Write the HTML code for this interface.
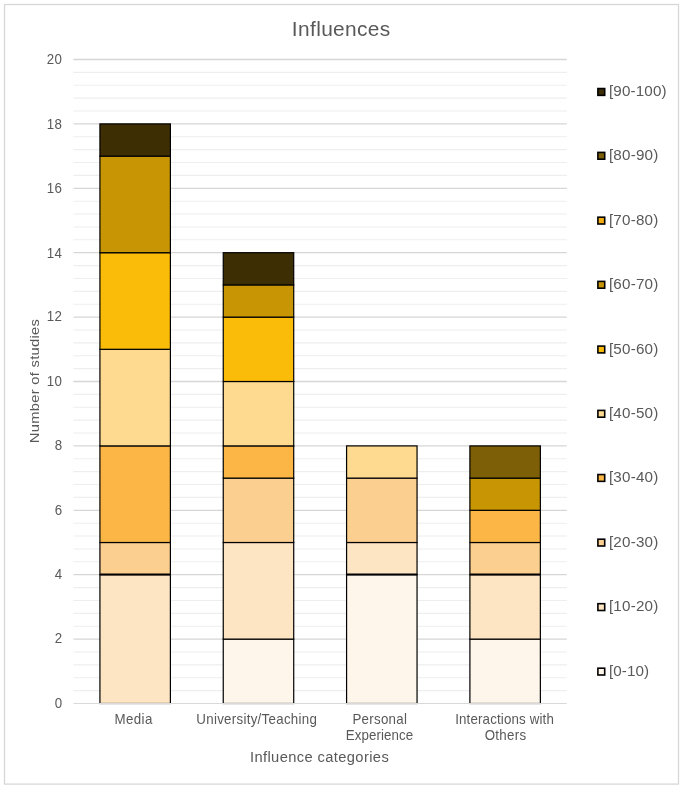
<!DOCTYPE html>
<html lang="en">
<head>
<meta charset="utf-8">
<title>Influences</title>
<style>
html,body{margin:0;padding:0;background:#fff;}
body{width:683px;height:789px;overflow:hidden;}
svg{display:block;}
text{font-family:"Liberation Sans",Arial,sans-serif;fill:#595959;}
</style>
</head>
<body>
<svg width="683" height="789" viewBox="0 0 683 789">
<rect x="0" y="0" width="683" height="789" fill="#ffffff"/>
<rect x="4.5" y="4.5" width="674" height="779.6" fill="none" stroke="#D6D6D6" stroke-width="1.25"/>

<g stroke="#EEEEEE" stroke-width="1.1">
<line x1="73.5" x2="566.8" y1="690.62" y2="690.62"/>
<line x1="73.5" x2="566.8" y1="677.74" y2="677.74"/>
<line x1="73.5" x2="566.8" y1="664.86" y2="664.86"/>
<line x1="73.5" x2="566.8" y1="651.98" y2="651.98"/>
<line x1="73.5" x2="566.8" y1="626.22" y2="626.22"/>
<line x1="73.5" x2="566.8" y1="613.34" y2="613.34"/>
<line x1="73.5" x2="566.8" y1="600.46" y2="600.46"/>
<line x1="73.5" x2="566.8" y1="587.58" y2="587.58"/>
<line x1="73.5" x2="566.8" y1="561.82" y2="561.82"/>
<line x1="73.5" x2="566.8" y1="548.94" y2="548.94"/>
<line x1="73.5" x2="566.8" y1="536.06" y2="536.06"/>
<line x1="73.5" x2="566.8" y1="523.18" y2="523.18"/>
<line x1="73.5" x2="566.8" y1="497.42" y2="497.42"/>
<line x1="73.5" x2="566.8" y1="484.54" y2="484.54"/>
<line x1="73.5" x2="566.8" y1="471.66" y2="471.66"/>
<line x1="73.5" x2="566.8" y1="458.78" y2="458.78"/>
<line x1="73.5" x2="566.8" y1="433.02" y2="433.02"/>
<line x1="73.5" x2="566.8" y1="420.14" y2="420.14"/>
<line x1="73.5" x2="566.8" y1="407.26" y2="407.26"/>
<line x1="73.5" x2="566.8" y1="394.38" y2="394.38"/>
<line x1="73.5" x2="566.8" y1="368.62" y2="368.62"/>
<line x1="73.5" x2="566.8" y1="355.74" y2="355.74"/>
<line x1="73.5" x2="566.8" y1="342.86" y2="342.86"/>
<line x1="73.5" x2="566.8" y1="329.98" y2="329.98"/>
<line x1="73.5" x2="566.8" y1="304.22" y2="304.22"/>
<line x1="73.5" x2="566.8" y1="291.34" y2="291.34"/>
<line x1="73.5" x2="566.8" y1="278.46" y2="278.46"/>
<line x1="73.5" x2="566.8" y1="265.58" y2="265.58"/>
<line x1="73.5" x2="566.8" y1="239.82" y2="239.82"/>
<line x1="73.5" x2="566.8" y1="226.94" y2="226.94"/>
<line x1="73.5" x2="566.8" y1="214.06" y2="214.06"/>
<line x1="73.5" x2="566.8" y1="201.18" y2="201.18"/>
<line x1="73.5" x2="566.8" y1="175.42" y2="175.42"/>
<line x1="73.5" x2="566.8" y1="162.54" y2="162.54"/>
<line x1="73.5" x2="566.8" y1="149.66" y2="149.66"/>
<line x1="73.5" x2="566.8" y1="136.78" y2="136.78"/>
<line x1="73.5" x2="566.8" y1="111.02" y2="111.02"/>
<line x1="73.5" x2="566.8" y1="98.14" y2="98.14"/>
<line x1="73.5" x2="566.8" y1="85.26" y2="85.26"/>
<line x1="73.5" x2="566.8" y1="72.38" y2="72.38"/>
</g>
<g stroke="#D6D6D6" stroke-width="1.3">
<line x1="73.5" x2="566.8" y1="639.10" y2="639.10"/>
<line x1="73.5" x2="566.8" y1="574.70" y2="574.70"/>
<line x1="73.5" x2="566.8" y1="510.30" y2="510.30"/>
<line x1="73.5" x2="566.8" y1="445.90" y2="445.90"/>
<line x1="73.5" x2="566.8" y1="381.50" y2="381.50"/>
<line x1="73.5" x2="566.8" y1="317.10" y2="317.10"/>
<line x1="73.5" x2="566.8" y1="252.70" y2="252.70"/>
<line x1="73.5" x2="566.8" y1="188.30" y2="188.30"/>
<line x1="73.5" x2="566.8" y1="123.90" y2="123.90"/>
<line x1="73.5" x2="566.8" y1="59.50" y2="59.50"/>
</g>
<g stroke="#000000" stroke-width="1.2">
<rect x="99.93" y="574.70" width="70.47" height="128.80" fill="#FDE4C2"/>
<rect x="99.93" y="542.50" width="70.47" height="32.20" fill="#FBCF8F"/>
<rect x="99.93" y="445.90" width="70.47" height="96.60" fill="#FBB646"/>
<rect x="99.93" y="349.30" width="70.47" height="96.60" fill="#FDDA90"/>
<rect x="99.93" y="252.70" width="70.47" height="96.60" fill="#FBBC09"/>
<rect x="99.93" y="156.10" width="70.47" height="96.60" fill="#C89504"/>
<rect x="99.93" y="123.90" width="70.47" height="32.20" fill="#3E2E04"/>
<line x1="99.93" x2="170.40" y1="574.3" y2="574.3" stroke-width="1.8"/>
<rect x="223.25" y="639.10" width="70.47" height="64.40" fill="#FEF5EB"/>
<rect x="223.25" y="542.50" width="70.47" height="96.60" fill="#FDE4C2"/>
<rect x="223.25" y="478.10" width="70.47" height="64.40" fill="#FBCF8F"/>
<rect x="223.25" y="445.90" width="70.47" height="32.20" fill="#FBB646"/>
<rect x="223.25" y="381.50" width="70.47" height="64.40" fill="#FDDA90"/>
<rect x="223.25" y="317.10" width="70.47" height="64.40" fill="#FBBC09"/>
<rect x="223.25" y="284.90" width="70.47" height="32.20" fill="#C89504"/>
<rect x="223.25" y="252.70" width="70.47" height="32.20" fill="#3E2E04"/>
<rect x="346.58" y="574.70" width="70.47" height="128.80" fill="#FEF5EB"/>
<rect x="346.58" y="542.50" width="70.47" height="32.20" fill="#FDE4C2"/>
<rect x="346.58" y="478.10" width="70.47" height="64.40" fill="#FBCF8F"/>
<rect x="346.58" y="445.90" width="70.47" height="32.20" fill="#FDDA90"/>
<line x1="346.58" x2="417.05" y1="574.3" y2="574.3" stroke-width="1.8"/>
<rect x="469.90" y="639.10" width="70.47" height="64.40" fill="#FEF5EB"/>
<rect x="469.90" y="574.70" width="70.47" height="64.40" fill="#FDE4C2"/>
<rect x="469.90" y="542.50" width="70.47" height="32.20" fill="#FBCF8F"/>
<rect x="469.90" y="510.30" width="70.47" height="32.20" fill="#FBB646"/>
<rect x="469.90" y="478.10" width="70.47" height="32.20" fill="#C89504"/>
<rect x="469.90" y="445.90" width="70.47" height="32.20" fill="#7D5F07"/>
<line x1="469.90" x2="540.37" y1="574.3" y2="574.3" stroke-width="1.8"/>
</g>
<line x1="73.5" x2="566.8" y1="703.5" y2="703.5" stroke="#D9D9D9" stroke-width="1"/>
<rect x="597.9" y="668.20" width="6.8" height="6.8" fill="#FEF5EB" stroke="#000" stroke-width="1.6"/>
<rect x="597.9" y="603.70" width="6.8" height="6.8" fill="#FDE4C2" stroke="#000" stroke-width="1.6"/>
<rect x="597.9" y="539.20" width="6.8" height="6.8" fill="#FBCF8F" stroke="#000" stroke-width="1.6"/>
<rect x="597.9" y="474.55" width="6.8" height="6.8" fill="#FBB646" stroke="#000" stroke-width="1.6"/>
<rect x="597.9" y="410.40" width="6.8" height="6.8" fill="#FDDA90" stroke="#000" stroke-width="1.6"/>
<rect x="597.9" y="346.10" width="6.8" height="6.8" fill="#FBBC09" stroke="#000" stroke-width="1.6"/>
<rect x="597.9" y="281.40" width="6.8" height="6.8" fill="#C89504" stroke="#000" stroke-width="1.6"/>
<rect x="597.9" y="217.20" width="6.8" height="6.8" fill="#F2AE10" stroke="#000" stroke-width="1.6"/>
<rect x="597.9" y="152.40" width="6.8" height="6.8" fill="#7D5F07" stroke="#000" stroke-width="1.6"/>
<rect x="597.9" y="88.55" width="6.8" height="6.8" fill="#3E2E04" stroke="#000" stroke-width="1.6"/>
<text id="t0" transform="translate(54.65 707.90) scale(1 1.09)" style="font-size:13.33px;letter-spacing:0.500px">0</text>
<text id="t1" transform="translate(54.65 643.00) scale(1 1.09)" style="font-size:13.33px;letter-spacing:0.500px">2</text>
<text id="t2" transform="translate(54.65 578.80) scale(1 1.09)" style="font-size:13.33px;letter-spacing:0.500px">4</text>
<text id="t3" transform="translate(54.65 515.10) scale(1 1.09)" style="font-size:13.33px;letter-spacing:0.500px">6</text>
<text id="t4" transform="translate(54.65 450.20) scale(1 1.09)" style="font-size:13.33px;letter-spacing:0.500px">8</text>
<text id="t5" transform="translate(46.65 385.90) scale(1 1.09)" style="font-size:13.33px;letter-spacing:0.500px">10</text>
<text id="t6" transform="translate(46.65 321.00) scale(1 1.09)" style="font-size:13.33px;letter-spacing:0.500px">12</text>
<text id="t7" transform="translate(46.65 257.70) scale(1 1.09)" style="font-size:13.33px;letter-spacing:0.500px">14</text>
<text id="t8" transform="translate(46.65 192.90) scale(1 1.09)" style="font-size:13.33px;letter-spacing:0.500px">16</text>
<text id="t9" transform="translate(46.65 128.80) scale(1 1.09)" style="font-size:13.33px;letter-spacing:0.500px">18</text>
<text id="t10" transform="translate(46.65 63.90) scale(1 1.09)" style="font-size:13.33px;letter-spacing:0.500px">20</text>
<text id="c1" transform="translate(114.52 723.90) scale(1 1.08)" style="font-size:13.33px;letter-spacing:0.388px">Media</text>
<text id="c2" transform="translate(196.30 723.90) scale(1 1.08)" style="font-size:13.33px;letter-spacing:0.283px">University/Teaching</text>
<text id="c3a" transform="translate(352.45 723.90) scale(1 1.08)" style="font-size:13.33px;letter-spacing:0.271px">Personal</text>
<text id="c3b" transform="translate(345.80 739.90) scale(1 1.08)" style="font-size:13.33px;letter-spacing:0.094px">Experience</text>
<text id="c4a" transform="translate(455.20 723.90) scale(1 1.08)" style="font-size:13.33px;letter-spacing:0.150px">Interactions with</text>
<text id="c4b" transform="translate(484.67 739.90) scale(1 1.08)" style="font-size:13.33px;letter-spacing:0.320px">Others</text>
<text id="xt" transform="translate(249.93 761.50)" style="font-size:14.7px;letter-spacing:0.387px">Influence categories</text>
<text id="ti" transform="translate(291.85 35.70)" style="font-size:20.9px;letter-spacing:0.356px">Influences</text>
<text id="l0" transform="translate(608.90 675.95)" style="font-size:15.2px;letter-spacing:0.110px">[0-10)</text>
<text id="l1" transform="translate(608.90 611.20)" style="font-size:15.2px;letter-spacing:0.217px">[10-20)</text>
<text id="l2" transform="translate(608.90 546.65)" style="font-size:15.2px;letter-spacing:0.217px">[20-30)</text>
<text id="l3" transform="translate(608.90 482.45)" style="font-size:15.2px;letter-spacing:0.217px">[30-40)</text>
<text id="l4" transform="translate(608.90 418.20)" style="font-size:15.2px;letter-spacing:0.217px">[40-50)</text>
<text id="l5" transform="translate(608.90 353.65)" style="font-size:15.2px;letter-spacing:0.217px">[50-60)</text>
<text id="l6" transform="translate(608.90 288.95)" style="font-size:15.2px;letter-spacing:0.217px">[60-70)</text>
<text id="l7" transform="translate(608.90 224.65)" style="font-size:15.2px;letter-spacing:0.217px">[70-80)</text>
<text id="l8" transform="translate(608.90 159.85)" style="font-size:15.2px;letter-spacing:0.217px">[80-90)</text>
<text id="l9" transform="translate(608.92 96.45)" style="font-size:15.2px;letter-spacing:0.157px">[90-100)</text>
<text id="yt" transform="translate(38.80 443.20) rotate(-90) scale(1 0.93)" style="font-size:14.7px;letter-spacing:0.303px">Number of studies</text>
</svg>
</body>
</html>
